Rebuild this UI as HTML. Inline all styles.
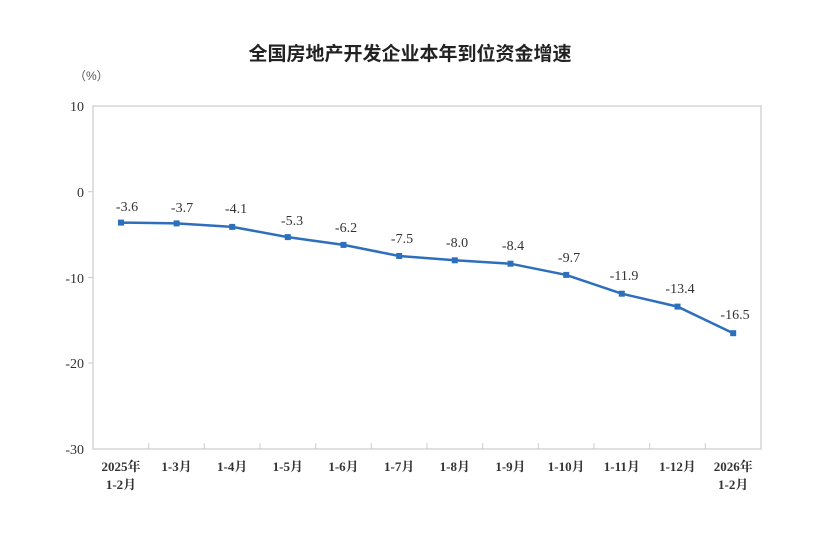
<!DOCTYPE html>
<html><head><meta charset="utf-8"><style>body{margin:0;background:#fff}</style></head><body>
<svg width="828" height="528" xmlns="http://www.w3.org/2000/svg" font-family="'Liberation Serif','Noto Serif CJK SC',serif">
<rect width="828" height="528" fill="#fff"/>
<text x="410" y="60" font-size="19" font-weight="bold" text-anchor="middle" fill="#222" font-family="'Liberation Sans','Noto Sans CJK SC',sans-serif">全国房地产开发企业本年到位资金增速</text>
<text x="74" y="80" font-size="12" fill="#555" font-family="'Liberation Sans','Noto Sans CJK SC',sans-serif">（%）</text>
<rect x="93" y="106" width="668" height="343" fill="none" stroke="#d6d6d6" stroke-width="1.5"/>
<g font-size="14" fill="#333" text-anchor="end">
<text x="84" y="111">10</text><text x="84" y="197">0</text><text x="84" y="283">-10</text><text x="84" y="368">-20</text><text x="84" y="454">-30</text>
</g>
<g stroke="#ccc" stroke-width="1">
<line x1="88" y1="191.7" x2="93" y2="191.7"/><line x1="88" y1="277.5" x2="93" y2="277.5"/><line x1="88" y1="363" x2="93" y2="363"/>
<line x1="148.7" y1="443" x2="148.7" y2="449"/><line x1="204.3" y1="443" x2="204.3" y2="449"/><line x1="260" y1="443" x2="260" y2="449"/><line x1="315.7" y1="443" x2="315.7" y2="449"/><line x1="371.3" y1="443" x2="371.3" y2="449"/><line x1="427" y1="443" x2="427" y2="449"/><line x1="482.7" y1="443" x2="482.7" y2="449"/><line x1="538.3" y1="443" x2="538.3" y2="449"/><line x1="594" y1="443" x2="594" y2="449"/><line x1="649.7" y1="443" x2="649.7" y2="449"/><line x1="705.3" y1="443" x2="705.3" y2="449"/>
</g>
<polyline fill="none" stroke="#2e6fbd" stroke-width="2.5" points="121,222.6 176.6,223.4 232.2,226.9 287.8,237.1 343.5,244.9 399.2,256 454.8,260.3 510.5,263.7 566.2,274.9 621.8,293.7 677.5,306.6 733.2,333.2"/>
<g fill="#2e6fbd">
<rect x="118" y="219.6" width="6" height="6"/><rect x="173.6" y="220.4" width="6" height="6"/><rect x="229.2" y="223.9" width="6" height="6"/><rect x="284.8" y="234.1" width="6" height="6"/><rect x="340.5" y="241.9" width="6" height="6"/><rect x="396.2" y="253" width="6" height="6"/><rect x="451.8" y="257.3" width="6" height="6"/><rect x="507.5" y="260.7" width="6" height="6"/><rect x="563.2" y="271.9" width="6" height="6"/><rect x="618.8" y="290.7" width="6" height="6"/><rect x="674.5" y="303.6" width="6" height="6"/><rect x="730.2" y="330.2" width="6" height="6"/>
</g>
<g font-size="14" fill="#333" text-anchor="middle">
<text x="127" y="211">-3.6</text><text x="182" y="212">-3.7</text><text x="236" y="213">-4.1</text><text x="292" y="225">-5.3</text><text x="346" y="232">-6.2</text><text x="402" y="243">-7.5</text><text x="457" y="247">-8.0</text><text x="513" y="250">-8.4</text><text x="569" y="262">-9.7</text><text x="624" y="280">-11.9</text><text x="680" y="293">-13.4</text><text x="735" y="319">-16.5</text>
</g>
<g font-size="13" fill="#333" text-anchor="middle" font-weight="bold">
<text x="121" y="471">2025年</text><text x="121" y="489">1-2月</text>
<text x="176.6" y="471">1-3月</text><text x="232.2" y="471">1-4月</text><text x="287.8" y="471">1-5月</text><text x="343.5" y="471">1-6月</text><text x="399.2" y="471">1-7月</text><text x="454.8" y="471">1-8月</text><text x="510.5" y="471">1-9月</text><text x="566.2" y="471">1-10月</text><text x="621.8" y="471">1-11月</text><text x="677.5" y="471">1-12月</text>
<text x="733.2" y="471">2026年</text><text x="733.2" y="489">1-2月</text>
</g>
</svg>
</body></html>
